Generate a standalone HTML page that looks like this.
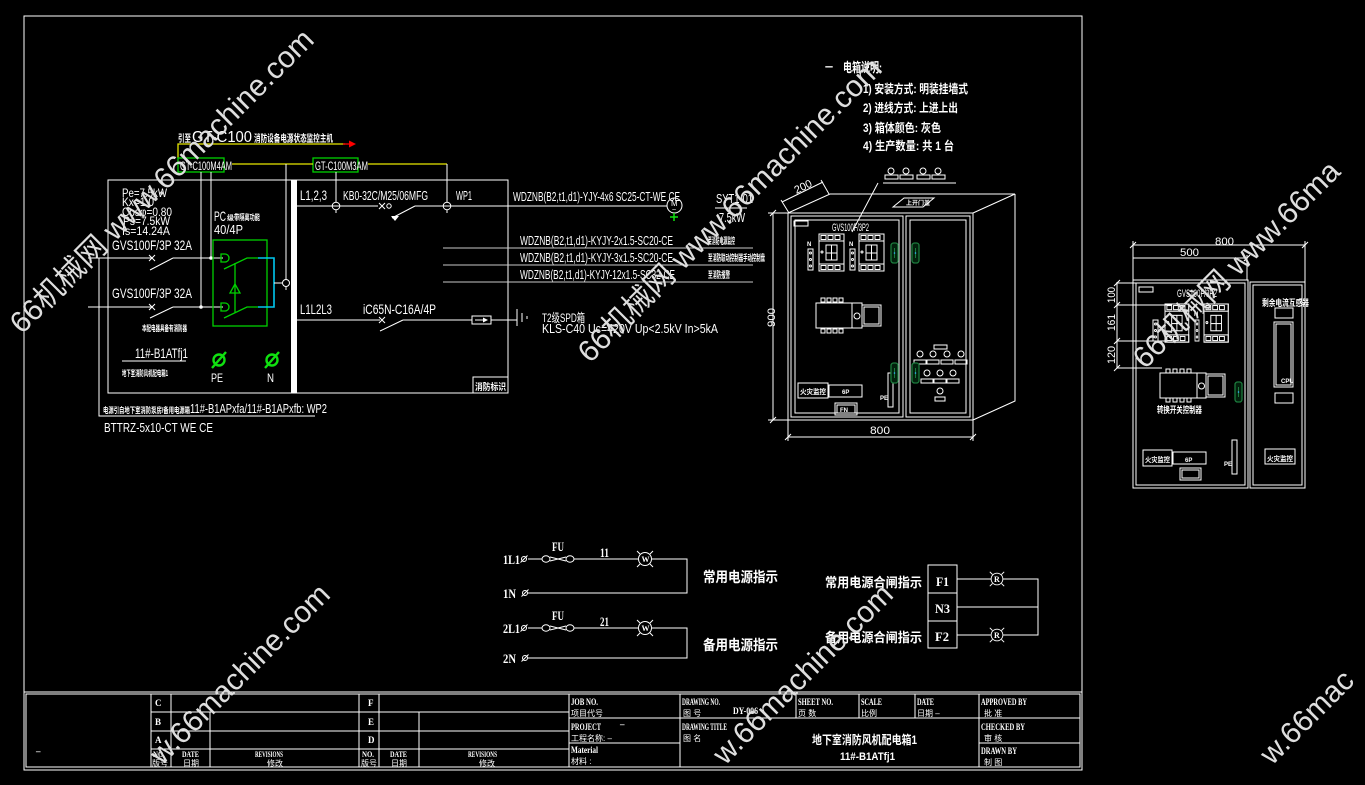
<!DOCTYPE html>
<html><head><meta charset="utf-8">
<style>
html,body{margin:0;padding:0;background:#000;width:1365px;height:785px;overflow:hidden;}
svg{display:block}
</style></head><body>
<svg width="1365" height="785" viewBox="0 0 1365 785" xmlns="http://www.w3.org/2000/svg" overflow="hidden">
<style>
.l{stroke:#fff;stroke-width:1;fill:none}
.lg{stroke:#c8c8c8;stroke-width:1;fill:none}
.gr{stroke:#00d000;stroke-width:1.3;fill:none}
.cy{stroke:#00c8f0;stroke-width:1.6;fill:none}
.ye{stroke:#e8e800;stroke-width:1.3;fill:none}
text{fill:#fff}
.n{font-family:"Liberation Sans Narrow","Liberation Sans",sans-serif}
.c{font-family:"Liberation Sans","Noto Sans CJK SC",sans-serif;font-weight:bold}
.s{font-family:"Liberation Serif","Noto Serif CJK SC",serif;font-weight:bold}
.cs{font-family:"Liberation Sans","Noto Sans CJK SC",sans-serif}
.w{font-family:"Liberation Sans","Noto Sans CJK SC",sans-serif;fill:#dedede;font-size:30px}
</style>
<defs>
<clipPath id="clipall"><rect x="0" y="0" width="1365" height="785"/></clipPath>
<g id="brk" class="l">
<rect x="0" y="0" width="25" height="37"/>
<rect x="0" y="0" width="25" height="7"/>
<rect x="0" y="30" width="25" height="7"/>
<rect x="7" y="11" width="11" height="15"/>
<line x1="12.5" y1="11" x2="12.5" y2="26"/>
<line x1="7" y1="19" x2="18" y2="19"/>
<rect x="2" y="1.5" width="5" height="4"/><rect x="9" y="1.5" width="5" height="4"/><rect x="16" y="1.5" width="5" height="4"/>
<rect x="2" y="31.5" width="5" height="4"/><rect x="9" y="31.5" width="5" height="4"/><rect x="16" y="31.5" width="5" height="4"/>
<circle cx="3" cy="18" r="1"/>
</g>
<g id="strip" class="l">
<rect x="0" y="0" width="5" height="21"/>
<circle cx="2.5" cy="4" r="1"/><circle cx="2.5" cy="10.5" r="1"/><circle cx="2.5" cy="17" r="1"/>
</g>
<g id="handle">
<rect x="0" y="0" width="7" height="20" rx="2.5" fill="#02200c" stroke="#1c7a3c" stroke-width="1.3"/>
<line x1="3.5" y1="5" x2="3.5" y2="15" stroke="#1c7a3c"/>
<circle cx="3.5" cy="10" r="0.8" fill="#3af"/>
</g>
<g id="lamp" class="l">
<circle cx="0" cy="0" r="6.5"/>
<line x1="-8" y1="-8" x2="-5" y2="-5"/><line x1="8" y1="-8" x2="5" y2="-5"/>
<line x1="-8" y1="8" x2="-5" y2="5"/><line x1="8" y1="8" x2="5" y2="5"/>
</g>
<g id="term" class="l">
<circle cx="0" cy="0" r="2.5"/><line x1="-3.5" y1="3.5" x2="3.5" y2="-3.5"/>
</g>
</defs>
<rect width="1365" height="785" fill="#000"/>

<!-- Frame -->
<rect x="24" y="16" width="1058" height="754" class="l" stroke-width="2"/>
<line x1="24" y1="692" x2="1082" y2="692" class="l" stroke-width="2"/>
<rect x="26" y="694" width="1054" height="73" class="l"/>

<!-- Title block lines -->
<g class="l">
<path d="M151 694V767M171 694V767M210 712V767M359 694V767M379 694V767M419 712V767M569 694V767"/>
<path d="M151 712H569M151 731H569M151 749H569"/>
<path d="M569 718H1080M569 743H680M979 743H1080"/>
<path d="M680 694V767M796 694V718M859 694V718M915 694V718M979 694V767"/>
</g>
<g class="s" font-size="9">
<text x="36" y="754">–</text>
<text x="155" y="706">C</text><text x="155" y="725">B</text><text x="155" y="743">A</text>
<text x="368" y="706">F</text><text x="368" y="725">E</text><text x="368" y="743">D</text>
<text x="153" y="757" font-size="8" textLength="12" lengthAdjust="spacingAndGlyphs">NO.</text>
<text x="182" y="757" font-size="8" textLength="17" lengthAdjust="spacingAndGlyphs">DATE</text>
<text x="255" y="757" font-size="8" textLength="28" lengthAdjust="spacingAndGlyphs">REVISIONS</text>
<text x="362" y="757" font-size="8" textLength="12" lengthAdjust="spacingAndGlyphs">NO.</text>
<text x="390" y="757" font-size="8" textLength="17" lengthAdjust="spacingAndGlyphs">DATE</text>
<text x="468" y="757" font-size="8" textLength="29" lengthAdjust="spacingAndGlyphs">REVISIONS</text>
<text x="571" y="705" textLength="27" lengthAdjust="spacingAndGlyphs">JOB NO.</text>
<text x="571" y="730" textLength="30" lengthAdjust="spacingAndGlyphs">PROJECT</text>
<text x="620" y="727">–</text>
<text x="571" y="753" textLength="27" lengthAdjust="spacingAndGlyphs">Material</text>
<text x="682" y="705" textLength="38" lengthAdjust="spacingAndGlyphs">DRAWING NO.</text>
<text x="733" y="714" textLength="25" lengthAdjust="spacingAndGlyphs">DY-006</text>
<text x="798" y="705" textLength="35" lengthAdjust="spacingAndGlyphs">SHEET NO.</text>
<text x="861" y="705" textLength="21" lengthAdjust="spacingAndGlyphs">SCALE</text>
<text x="917" y="705" textLength="17" lengthAdjust="spacingAndGlyphs">DATE</text>
<text x="981" y="705" textLength="46" lengthAdjust="spacingAndGlyphs">APPROVED BY</text>
<text x="682" y="730" textLength="45" lengthAdjust="spacingAndGlyphs">DRAWING TITLE</text>
<text x="981" y="730" textLength="44" lengthAdjust="spacingAndGlyphs">CHECKED BY</text>
<text x="981" y="754" textLength="36" lengthAdjust="spacingAndGlyphs">DRAWN BY</text>
</g>
<g class="cs" font-size="8">
<text x="152" y="766">版号</text><text x="183" y="766">日期</text><text x="267" y="766">修改</text>
<text x="361" y="766">版号</text><text x="391" y="766">日期</text><text x="479" y="766">修改</text>
<text x="571" y="716">项目代号</text>
<text x="571" y="741">工程名称: –</text>
<text x="571" y="764">材料 :</text>
<text x="683" y="716">图    号</text>
<text x="798" y="716">页 数</text>
<text x="861" y="716">比例</text>
<text x="917" y="716">日期 –</text>
<text x="984" y="716">批    准</text>
<text x="683" y="741">图    名</text>
<text x="984" y="741">审    核</text>
<text x="984" y="765">制    图</text>
</g>
<text class="c" x="812" y="744" font-size="12" textLength="105" lengthAdjust="spacingAndGlyphs">地下室消防风机配电箱1</text>
<text class="c" x="840" y="760" font-size="11" textLength="55" lengthAdjust="spacingAndGlyphs">11#-B1ATfj1</text>

<!-- Top feed to monitor -->
<path class="ye" d="M178 158V144H345"/>
<line x1="343" y1="144" x2="351" y2="144" stroke="#f00" stroke-width="1.3"/>
<polygon points="349,140.5 356,144 349,147.5" fill="#f00"/>
<text class="c" x="178" y="142" font-size="10" textLength="13" lengthAdjust="spacingAndGlyphs">引至</text>
<text class="n" x="192" y="142" font-size="16" textLength="60" lengthAdjust="spacingAndGlyphs">GT-C100</text>
<text class="c" x="254" y="142" font-size="10" textLength="79" lengthAdjust="spacingAndGlyphs">消防设备电源状态监控主机</text>
<rect x="178" y="158" width="46" height="14" class="gr"/>
<rect x="313" y="158" width="45" height="14" class="gr"/>
<path class="ye" d="M232 164H313M368 164H447"/>
<text class="n" x="180" y="170" font-size="12" textLength="52" lengthAdjust="spacingAndGlyphs">GT-C100M4AM</text>
<text class="n" x="315" y="170" font-size="12" textLength="53" lengthAdjust="spacingAndGlyphs">GT-C100M3AM</text>
<path class="l" d="M201 172V307M211 172V258M286 164V280M336 172V202M447 164V202"/>

<!-- main box -->
<rect x="108" y="180" width="400" height="213" class="l"/>
<rect x="291" y="180" width="6" height="213" fill="#fff"/>

<g class="n" font-size="12">
<text x="122" y="197" textLength="45" lengthAdjust="spacingAndGlyphs">Pe=7.5kW</text>
<text x="122" y="206" textLength="32" lengthAdjust="spacingAndGlyphs">Kx=1.0</text>
<text x="122" y="216" textLength="50" lengthAdjust="spacingAndGlyphs">Cosφ=0.80</text>
<text x="123" y="225" textLength="47" lengthAdjust="spacingAndGlyphs">Ps=7.5kW</text>
<text x="122" y="235" textLength="48" lengthAdjust="spacingAndGlyphs">Is=14.24A</text>
</g>
<text class="n" x="112" y="250" font-size="14" textLength="80" lengthAdjust="spacingAndGlyphs">GVS100F/3P 32A</text>
<text class="n" x="112" y="298" font-size="14" textLength="80" lengthAdjust="spacingAndGlyphs">GVS100F/3P 32A</text>

<!-- input breakers -->
<g class="l">
<path d="M88 258H152M149 255L155 261M149 261L155 255M150 270L173 258M173 258H223"/>
<path d="M88 307H152M149 304L155 310M149 310L155 304M150 318L173 307M173 307H223"/>
<path d="M99 258V416H315"/>
</g>
<circle cx="211" cy="258" r="1.8" fill="#fff"/>
<circle cx="201" cy="307" r="1.8" fill="#fff"/>
<text class="c" x="142" y="331" font-size="8" textLength="45" lengthAdjust="spacingAndGlyphs">本配电器具备有消防器</text>

<!-- PC ATS -->
<rect x="213" y="240" width="54" height="86" class="gr"/>
<path class="gr" d="M221 254h4a4 4 0 0 1 0 8h-4z M221 303h4a4 4 0 0 1 0 8h-4z"/>
<path class="gr" d="M224 269L247 258H258M224 318L247 307H258M235 263V313"/>
<polygon points="235,284 230,293 240,293" class="gr"/>
<path class="cy" d="M258 258H274V307H258"/>
<path class="l" d="M274 283H282"/>
<circle cx="286" cy="283" r="3.5" class="l"/>
<path class="l" d="M286 286.5V290"/>
<text class="n" x="214" y="221" font-size="14" textLength="12" lengthAdjust="spacingAndGlyphs">PC</text>
<text class="c" x="227" y="220" font-size="7">级</text>
<text class="c" x="234" y="220" font-size="8" textLength="26" lengthAdjust="spacingAndGlyphs">带隔离功能</text>
<text class="n" x="214" y="234" font-size="13" textLength="29" lengthAdjust="spacingAndGlyphs">40/4P</text>

<text class="n" x="135" y="358" font-size="14" textLength="53" lengthAdjust="spacingAndGlyphs">11#-B1ATfj1</text>
<line x1="122" y1="361" x2="186" y2="361" class="l"/>
<text class="c" x="122" y="376" font-size="8" textLength="46" lengthAdjust="spacingAndGlyphs">地下室消防风机配电箱1</text>
<g stroke="#10e010" stroke-width="2.4" fill="none">
<circle cx="219" cy="360" r="5.5"/><line x1="212" y1="368" x2="226" y2="352"/>
<circle cx="272" cy="360" r="5.5"/><line x1="265" y1="368" x2="279" y2="352"/>
</g>
<text class="n" x="211" y="382" font-size="12" textLength="12" lengthAdjust="spacingAndGlyphs">PE</text>
<text class="n" x="267" y="382" font-size="12" textLength="7" lengthAdjust="spacingAndGlyphs">N</text>
<rect x="473" y="377" width="35" height="16" class="l"/>
<text class="c" x="475" y="390" font-size="9" textLength="31" lengthAdjust="spacingAndGlyphs">消防标识</text>

<text class="c" x="103" y="413" font-size="8" textLength="87" lengthAdjust="spacingAndGlyphs">电源引自地下室消防泵房/备用电源箱</text>
<text class="n" x="190" y="413" font-size="13" textLength="137" lengthAdjust="spacingAndGlyphs">11#-B1APxfa/11#-B1APxfb: WP2</text>
<text class="n" x="104" y="432" font-size="13" textLength="109" lengthAdjust="spacingAndGlyphs">BTTRZ-5x10-CT WE CE</text>

<!-- right part top feeder -->
<g class="l">
<path d="M297 206H378M379 203L385 209M379 209L385 203M392 218L415 206M415 206H667"/>
<circle cx="389" cy="206" r="2.2"/>
<circle cx="336" cy="206" r="3.8"/><path d="M336 209.8V213"/>
<circle cx="447" cy="206" r="3.8"/><path d="M447 209.8V213"/>
</g>
<polygon points="391,216 399,216 395,221" fill="#fff"/>
<text class="n" x="300" y="200" font-size="14" textLength="27" lengthAdjust="spacingAndGlyphs">L1,2,3</text>
<text class="n" x="343" y="200" font-size="13" textLength="85" lengthAdjust="spacingAndGlyphs">KB0-32C/M25/06MFG</text>
<text class="n" x="456" y="200" font-size="13" textLength="16" lengthAdjust="spacingAndGlyphs">WP1</text>
<text class="n" x="513" y="201" font-size="13" textLength="167" lengthAdjust="spacingAndGlyphs">WDZNB(B2,t1,d1)-YJY-4x6 SC25-CT-WE CE</text>
<circle cx="674.5" cy="205.5" r="7.5" class="l"/>
<text class="n" x="671" y="206" font-size="8">M</text>
<text class="n" x="672" y="212" font-size="7">~</text>
<path d="M674 213V221M670 217H678" stroke="#10e010" stroke-width="1.5"/>
<text class="n" x="716" y="203" font-size="13" textLength="37" lengthAdjust="spacingAndGlyphs">SYT1-01</text>
<line x1="715" y1="208" x2="747" y2="208" class="l"/>
<text class="n" x="719" y="222" font-size="13" textLength="26" lengthAdjust="spacingAndGlyphs">7.5kW</text>

<path class="lg" d="M443 248H753M443 265H753M443 282H753"/>
<g class="n" font-size="13">
<text x="520" y="245" textLength="153" lengthAdjust="spacingAndGlyphs">WDZNB(B2,t1,d1)-KYJY-2x1.5-SC20-CE</text>
<text x="520" y="262" textLength="153" lengthAdjust="spacingAndGlyphs">WDZNB(B2,t1,d1)-KYJY-3x1.5-SC20-CE</text>
<text x="520" y="279" textLength="155" lengthAdjust="spacingAndGlyphs">WDZNB(B2,t1,d1)-KYJY-12x1.5-SC32-CE</text>
</g>
<g class="c" font-size="9">
<text x="708" y="244" textLength="27" lengthAdjust="spacingAndGlyphs">至消防电源监控</text>
<text x="708" y="261" textLength="57" lengthAdjust="spacingAndGlyphs">至消防联动控制器手动控制盘</text>
<text x="708" y="278" textLength="22" lengthAdjust="spacingAndGlyphs">至消防报警</text>
</g>

<!-- lower feeder SPD -->
<g class="l">
<path d="M297 320H380M379 317L385 323M379 323L385 317M380 331L403 320M403 320H472"/>
<rect x="472" y="316" width="19" height="8"/>
<path d="M475 320H485M491 320H517M517 309V326M522 313V322M527 316V319"/>
</g>
<polygon points="483,317.5 488,320 483,322.5" fill="#fff"/>
<text class="n" x="300" y="314" font-size="14" textLength="32" lengthAdjust="spacingAndGlyphs">L1L2L3</text>
<text class="n" x="363" y="314" font-size="14" textLength="73" lengthAdjust="spacingAndGlyphs">iC65N-C16A/4P</text>
<text class="n" x="542" y="322" font-size="12" textLength="43" lengthAdjust="spacingAndGlyphs">T2级SPD箱</text>
<text class="n" x="542" y="333" font-size="13" textLength="176" lengthAdjust="spacingAndGlyphs">KLS-C40  Uc=420V Up&lt;2.5kV In&gt;5kA</text>

<!-- Notes -->
<text class="c" x="825" y="71" font-size="10" textLength="8" lengthAdjust="spacingAndGlyphs">一</text>
<text class="c" x="843" y="72" font-size="13" textLength="39" lengthAdjust="spacingAndGlyphs">电箱说明:</text>
<g class="c" font-size="12">
<text x="863" y="93" textLength="105" lengthAdjust="spacingAndGlyphs">1) 安装方式: 明装挂墙式</text>
<text x="863" y="112" textLength="95" lengthAdjust="spacingAndGlyphs">2) 进线方式: 上进上出</text>
<text x="863" y="132" textLength="78" lengthAdjust="spacingAndGlyphs">3) 箱体颜色: 灰色</text>
<text x="863" y="150" textLength="91" lengthAdjust="spacingAndGlyphs">4) 生产数量: 共 1 台</text>
</g>

<!-- Cabinet front view -->
<g class="l">
<path d="M788 213L830 194H1015L973 213M1015 194V401L973 420"/>
<rect x="788" y="213" width="185" height="207"/>
<rect x="791" y="216" width="112" height="201"/>
<rect x="795" y="220" width="104" height="193"/>
<rect x="906" y="216" width="64" height="201"/>
<rect x="910" y="220" width="56" height="193"/>
<path d="M782 202L823 182M789 213L781 200M829 194L821 180"/>
<path d="M773 213V420M768 213H788M768 420H788M770 216L776 210M770 423L776 417"/>
<path d="M788 420V441M973 420V441M788 437H973M785 440L791 434M970 440L976 434"/>
<path d="M883 183H956M878 183L852 232"/>
<path d="M893 207L904 198H934L923 207Z"/>
<circle cx="891" cy="171" r="3"/><rect x="885" y="175" width="13" height="4"/>
<circle cx="906" cy="171" r="3"/><rect x="900" y="175" width="13" height="4"/>
<circle cx="923" cy="171" r="3"/><rect x="917" y="175" width="13" height="4"/>
<circle cx="938" cy="171" r="3"/><rect x="932" y="175" width="13" height="4"/>
<rect x="794" y="221" width="14" height="5"/>
<rect x="816" y="303" width="36" height="25"/>
<rect x="852" y="303" width="10" height="25"/>
<circle cx="857" cy="316" r="3"/>
<rect x="862" y="305" width="19" height="21"/>
<rect x="864" y="307" width="15" height="17"/>
<rect x="821" y="298" width="4" height="4"/><rect x="827" y="298" width="4" height="4"/><rect x="833" y="298" width="4" height="4"/><rect x="839" y="298" width="4" height="4"/>
<rect x="821" y="329" width="4" height="4"/><rect x="827" y="329" width="4" height="4"/><rect x="833" y="329" width="4" height="4"/><rect x="839" y="329" width="4" height="4"/>
<rect x="798" y="383" width="30" height="15"/>
<rect x="829" y="385" width="33" height="12"/>
<rect x="835" y="403" width="22" height="12"/>
<rect x="837" y="405" width="18" height="8"/>
<rect x="888" y="373" width="5" height="34"/>
<rect x="934" y="345" width="13" height="4"/>
<circle cx="920" cy="354" r="3"/><circle cx="933" cy="354" r="3"/><circle cx="947" cy="354" r="3"/><circle cx="961" cy="354" r="3"/>
<rect x="914" y="360" width="12" height="4"/><rect x="927" y="360" width="12" height="4"/><rect x="941" y="360" width="12" height="4"/><rect x="955" y="360" width="12" height="4"/>
<circle cx="927" cy="373" r="3"/><circle cx="940" cy="373" r="3"/><circle cx="953" cy="373" r="3"/>
<rect x="921" y="379" width="12" height="4"/><rect x="934" y="379" width="12" height="4"/><rect x="947" y="379" width="12" height="4"/>
<circle cx="940" cy="391" r="3"/><rect x="935" y="397" width="10" height="4"/>
</g>
<use href="#brk" x="819" y="234"/>
<use href="#brk" x="859" y="234"/>
<use href="#strip" x="808" y="249"/>
<use href="#strip" x="850" y="249"/>
<use href="#handle" x="891" y="243"/>
<use href="#handle" x="912" y="243"/>
<use href="#handle" x="891" y="363"/>
<use href="#handle" x="912" y="363"/>
<g class="n" font-size="11">
<text x="795" y="192" font-size="11" transform="rotate(-26 800 190)">200</text>
<text x="832" y="231" textLength="37" lengthAdjust="spacingAndGlyphs">GVS100F/3P2</text>
<text x="870" y="434" textLength="20" lengthAdjust="spacingAndGlyphs">800</text>
<text x="0" y="0" transform="translate(775 327) rotate(-90)" textLength="19" lengthAdjust="spacingAndGlyphs">900</text>
</g>
<g class="c" font-size="6">
<text x="807" y="246">N</text><text x="849" y="246">N</text>
<text x="906" y="205">上开门盖</text>
<text x="880" y="400">PE</text>
<text x="840" y="412">FN</text>
<text x="842" y="394">6P</text>
</g>
<text class="c" x="800" y="394" font-size="7" textLength="26" lengthAdjust="spacingAndGlyphs">火灾监控</text>

<!-- Right cabinet view -->
<g class="l">
<path d="M1133 245H1305M1133 241V280M1305 241V282M1133 258H1247M1247 255V280M1130 248L1136 242M1302 248L1308 242M1244 261L1250 255"/>
<rect x="1133" y="280" width="115" height="208"/>
<rect x="1136" y="283" width="109" height="202"/>
<rect x="1250" y="282" width="55" height="206"/>
<rect x="1253" y="285" width="49" height="200"/>
<path d="M1117 282V368M1117 283H1136M1117 305H1172M1117 341H1167M1117 368H1162M1114 286L1120 280M1114 308L1120 302M1114 344L1120 338M1114 371L1120 365"/>
<rect x="1139" y="287" width="14" height="5"/>
<rect x="1160" y="373" width="37" height="25"/>
<rect x="1197" y="373" width="9" height="25"/>
<circle cx="1201.5" cy="386" r="3"/>
<rect x="1206" y="374" width="19" height="23"/>
<rect x="1208" y="376" width="15" height="19"/>
<rect x="1166" y="369" width="4" height="4"/><rect x="1173" y="369" width="4" height="4"/><rect x="1180" y="369" width="4" height="4"/><rect x="1187" y="369" width="4" height="4"/>
<rect x="1166" y="398" width="4" height="4"/><rect x="1173" y="398" width="4" height="4"/><rect x="1180" y="398" width="4" height="4"/><rect x="1187" y="398" width="4" height="4"/>
<rect x="1143" y="450" width="29" height="16"/>
<rect x="1173" y="452" width="33" height="12"/>
<rect x="1180" y="468" width="21" height="12"/>
<rect x="1182" y="470" width="17" height="8"/>
<rect x="1232" y="440" width="5" height="34"/>
<rect x="1275" y="308" width="18" height="10"/>
<rect x="1274" y="322" width="19" height="65"/>
<rect x="1276" y="324" width="15" height="61"/>
<rect x="1275" y="393" width="18" height="10"/>
<rect x="1265" y="449" width="30" height="15"/>
</g>
<use href="#brk" x="1165" y="304" transform="translate(1165 304) scale(0.95 1.03) translate(-1165 -304)"/>
<use href="#brk" x="1204" y="304" transform="translate(1204 304) scale(0.97 1.03) translate(-1204 -304)"/>
<use href="#strip" x="1153" y="320"/>
<use href="#strip" x="1195" y="320" transform="translate(1195 320) scale(0.8 1) translate(-1195 -320)"/>
<use href="#handle" x="1235" y="382"/>
<g class="n" font-size="11">
<text x="1215" y="245" textLength="19" lengthAdjust="spacingAndGlyphs">800</text>
<text x="1180" y="256" textLength="19" lengthAdjust="spacingAndGlyphs">500</text>
<text x="0" y="0" transform="translate(1115 303) rotate(-90)" textLength="16" lengthAdjust="spacingAndGlyphs">100</text>
<text x="0" y="0" transform="translate(1115 331) rotate(-90)" textLength="17" lengthAdjust="spacingAndGlyphs">161</text>
<text x="0" y="0" transform="translate(1115 364) rotate(-90)" textLength="18" lengthAdjust="spacingAndGlyphs">120</text>
<text x="1177" y="297" textLength="40" lengthAdjust="spacingAndGlyphs">GVS100F/3P2</text>
</g>
<g class="c" font-size="6">
<text x="1194" y="316">N</text>
<text x="1224" y="466">PE</text>
<text x="1281" y="383">CPU</text>
<text x="1185" y="462">6P</text>
</g>
<text class="c" x="1157" y="413" font-size="9" textLength="45" lengthAdjust="spacingAndGlyphs">转换开关控制器</text>
<text class="c" x="1262" y="306" font-size="9" textLength="47" lengthAdjust="spacingAndGlyphs">剩余电流互感器</text>
<text class="c" x="1145" y="462" font-size="7" textLength="25" lengthAdjust="spacingAndGlyphs">火灾监控</text>
<text class="c" x="1267" y="461" font-size="7" textLength="26" lengthAdjust="spacingAndGlyphs">火灾监控</text>

<!-- Indicator circuits -->
<g class="l">
<path d="M528 559H542M574 559H638M652 559H687V593H528"/>
<ellipse cx="546" cy="559" rx="4" ry="3.2"/><ellipse cx="570" cy="559" rx="4" ry="3.2"/>
<path d="M550 557L566 561M550 561L566 557"/>
<path d="M528 628H542M574 628H638M652 628H687V658H528"/>
<ellipse cx="546" cy="628" rx="4" ry="3.2"/><ellipse cx="570" cy="628" rx="4" ry="3.2"/>
<path d="M550 626L566 630M550 630L566 626"/>
</g>
<use href="#term" x="524" y="559"/><use href="#term" x="525" y="593"/>
<use href="#term" x="524" y="628"/><use href="#term" x="525" y="658"/>
<use href="#lamp" x="645" y="559"/><use href="#lamp" x="645" y="628"/>
<g class="s" font-size="8"><text x="641.5" y="562">W</text><text x="641.5" y="631">W</text></g>
<g class="s" font-size="13">
<text x="503" y="564" textLength="17" lengthAdjust="spacingAndGlyphs">1L1</text>
<text x="503" y="598" textLength="13" lengthAdjust="spacingAndGlyphs">1N</text>
<text x="503" y="633" textLength="17" lengthAdjust="spacingAndGlyphs">2L1</text>
<text x="503" y="663" textLength="13" lengthAdjust="spacingAndGlyphs">2N</text>
<text x="552" y="551" textLength="12" lengthAdjust="spacingAndGlyphs">FU</text>
<text x="552" y="620" textLength="12" lengthAdjust="spacingAndGlyphs">FU</text>
<text x="600" y="557" textLength="9" lengthAdjust="spacingAndGlyphs">11</text>
<text x="600" y="626" textLength="9" lengthAdjust="spacingAndGlyphs">21</text>
</g>
<text class="c" x="703" y="582" font-size="14" textLength="75" lengthAdjust="spacingAndGlyphs">常用电源指示</text>
<text class="c" x="703" y="650" font-size="14" textLength="75" lengthAdjust="spacingAndGlyphs">备用电源指示</text>

<text class="c" x="825" y="587" font-size="13" textLength="97" lengthAdjust="spacingAndGlyphs">常用电源合闸指示</text>
<text class="c" x="825" y="642" font-size="13" textLength="97" lengthAdjust="spacingAndGlyphs">备用电源合闸指示</text>
<g class="l">
<rect x="928" y="565" width="29" height="83"/>
<path d="M928 593H957M928 621H957"/>
<path d="M957 579H991M1003 579H1038V635H1003M957 607H1038M957 635H991"/>
</g>
<use href="#lamp" x="997" y="579" transform="translate(997 579) scale(0.9) translate(-997 -579)"/>
<use href="#lamp" x="997" y="635" transform="translate(997 635) scale(0.9) translate(-997 -635)"/>
<g class="s" font-size="13">
<text x="936" y="586" textLength="13" lengthAdjust="spacingAndGlyphs">F1</text>
<text x="935" y="613" textLength="15" lengthAdjust="spacingAndGlyphs">N3</text>
<text x="935" y="641" textLength="14" lengthAdjust="spacingAndGlyphs">F2</text>
</g>
<g class="s" font-size="8"><text x="994" y="582">R</text><text x="994" y="638">R</text></g>

<!-- Watermarks -->
<g clip-path="url(#clipall)">
<text class="w" transform="translate(22 335) rotate(-45)">66机械网 www.66machine.com</text>
<text class="w" transform="translate(590 364) rotate(-45)">66机械网 www.66machine.com</text>
<text class="w" transform="translate(1145 370) rotate(-45)">66机械网 www.66ma</text>
<text class="w" transform="translate(162 766) rotate(-45)">w.66machine.com</text>
<text class="w" transform="translate(725 766) rotate(-45)">w.66machine.com</text>
<text class="w" transform="translate(1272 766) rotate(-45)">w.66mac</text>
</g>
</svg>
</body></html>
